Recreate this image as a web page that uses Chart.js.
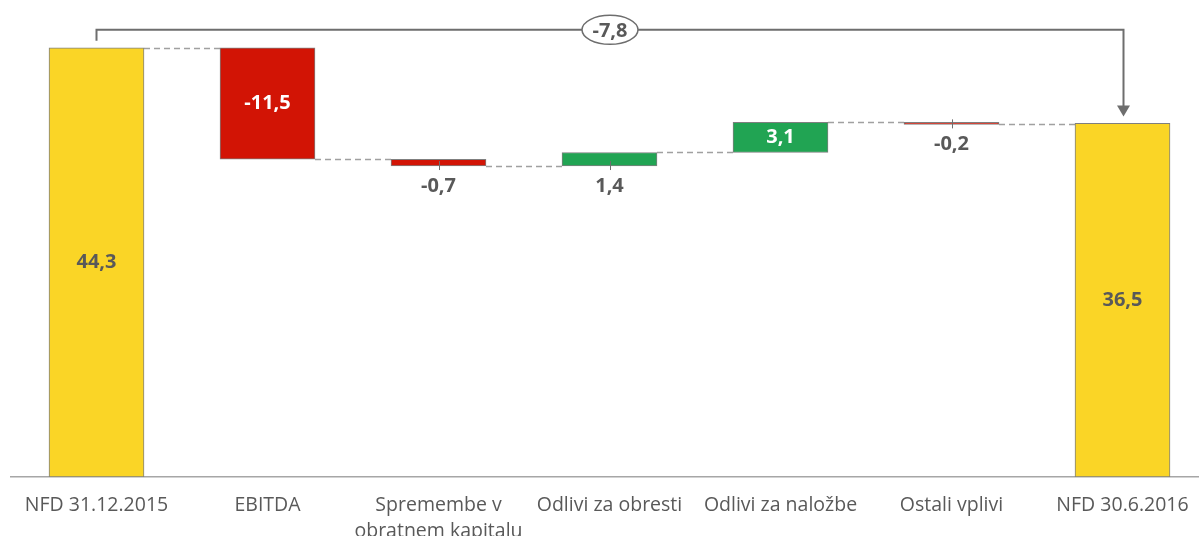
<!DOCTYPE html>
<html>
<head>
<meta charset="utf-8">
<script src="https://cdn.jsdelivr.net/npm/chart.js@4.4.1/dist/chart.umd.min.js"></script>
<style>
  html, body { margin: 0; padding: 0; background: #ffffff; }
  #wrap { width: 1199px; height: 536px; overflow: hidden; position: relative; }
  canvas { display: block; }
</style>
</head>
<body>
<div id="wrap"><canvas id="chart" width="1210" height="536"></canvas></div>
<script>
// Net financial debt bridge (EUR m)
const categories = [
  'NFD 31.12.2015',
  'EBITDA',
  ['Spremembe v', 'obratnem kapitalu'],
  'Odlivi za obresti',
  'Odlivi za naložbe',
  'Ostali vplivi',
  'NFD 30.6.2016'
];
const openingBalance = 44.3;
const changes = [-11.5, -0.7, 1.4, 3.1, -0.2];
const closingBalance = 36.5;

const COLOR_TOTAL = '#FAD526';
const COLOR_UP = '#D21405';     // debt increase shown red
const COLOR_DOWN = '#21A453';   // debt decrease shown green
const TEXT_GRAY = '#595959';
const LINE_GRAY = '#6E6E6E';

const round1 = v => Math.round(v * 10) / 10;
const fmt = v => v.toFixed(1).replace('.', ',');

// floating ranges for every bar and the level each bar ends at
const ranges = [[0, openingBalance]];
const labelValues = [openingBalance];
const endLevels = [openingBalance];
const colors = [COLOR_TOTAL];
let running = openingBalance;
changes.forEach(c => {
  const next = round1(running + c);
  ranges.push([next, running].sort((a, b) => a - b));
  labelValues.push(c);
  endLevels.push(next);
  colors.push(c < 0 ? COLOR_UP : COLOR_DOWN);
  running = next;
});
ranges.push([0, closingBalance]);
labelValues.push(closingBalance);
endLevels.push(closingBalance);
colors.push(COLOR_TOTAL);
const totalChange = round1(closingBalance - openingBalance);

const bridgePlugin = {
  id: 'bridge',
  beforeDatasetsDraw(chart) {
    const {ctx} = chart;
    const y = chart.scales.y;
    const bars = chart.getDatasetMeta(0).data;
    ctx.save();
    ctx.strokeStyle = '#A0A0A0';
    ctx.lineWidth = 1.5;
    ctx.setLineDash([6, 4]);
    for (let i = 0; i < bars.length - 1; i++) {
      const a = bars[i], b = bars[i + 1];
      const py = Math.round(y.getPixelForValue(endLevels[i])) + 0.5;
      ctx.beginPath();
      ctx.moveTo(a.x + a.width / 2, py);
      ctx.lineTo(b.x - b.width / 2, py);
      ctx.stroke();
    }
    ctx.restore();
  },
  afterDatasetsDraw(chart) {
    const {ctx} = chart;
    const bars = chart.getDatasetMeta(0).data;
    ctx.save();
    ctx.font = 'bold 20px "Open Sans"';
    ctx.textAlign = 'center';
    ctx.textBaseline = 'middle';
    bars.forEach((bar, i) => {
      const top = Math.min(bar.y, bar.base);
      const bottom = Math.max(bar.y, bar.base);
      const text = fmt(labelValues[i]);
      if (bottom - top > 26) {
        ctx.fillStyle = colors[i] === COLOR_TOTAL ? TEXT_GRAY : '#FFFFFF';
        ctx.fillText(text, bar.x, (top + bottom) / 2);
      } else {
        ctx.strokeStyle = LINE_GRAY;
        ctx.lineWidth = 1;
        ctx.beginPath();
        ctx.moveTo(Math.round(bar.x) + 0.5, bottom - 5);
        ctx.lineTo(Math.round(bar.x) + 0.5, bottom + 4);
        ctx.stroke();
        ctx.fillStyle = TEXT_GRAY;
        ctx.fillText(text, bar.x, bottom + 20);
      }
    });

    // overall change bracket from first to last total
    const first = bars[0], last = bars[bars.length - 1];
    const x1 = Math.round(first.x) - 0.5, x2 = Math.round(last.x) + 0.5;
    const topY = first.y - 18;
    const tipY = last.y - 7;
    ctx.strokeStyle = LINE_GRAY;
    ctx.fillStyle = LINE_GRAY;
    ctx.lineWidth = 2;
    ctx.beginPath();
    ctx.moveTo(x1, first.y - 7);
    ctx.lineTo(x1, topY);
    ctx.lineTo(x2, topY);
    ctx.lineTo(x2, tipY - 10);
    ctx.stroke();
    ctx.beginPath();
    ctx.moveTo(x2 - 6.5, tipY - 11);
    ctx.lineTo(x2 + 6.5, tipY - 11);
    ctx.lineTo(x2, tipY);
    ctx.closePath();
    ctx.fill();

    const cx = (x1 + x2) / 2;
    ctx.beginPath();
    ctx.ellipse(cx, topY, 28, 14.5, 0, 0, Math.PI * 2);
    ctx.fillStyle = '#FFFFFF';
    ctx.fill();
    ctx.lineWidth = 1.5;
    ctx.stroke();
    ctx.fillStyle = TEXT_GRAY;
    ctx.fillText(fmt(totalChange), cx, topY + 1);
    ctx.restore();
  }
};

new Chart(document.getElementById('chart'), {
  type: 'bar',
  data: {
    labels: categories,
    datasets: [{
      data: ranges,
      backgroundColor: colors,
      borderColor: '#7F7F7F',
      borderWidth: 1,
      borderSkipped: false,
      barThickness: 95
    }]
  },
  options: {
    responsive: false,
    devicePixelRatio: 1,
    animation: false,
    layout: { padding: { left: 11, right: 2, top: 12, bottom: 0 } },
    plugins: { legend: { display: false }, tooltip: { enabled: false } },
    scales: {
      x: {
        grid: { display: false, drawTicks: false },
        border: { display: true, color: '#A6A6A6', width: 1.5 },
        ticks: {
          color: TEXT_GRAY,
          autoSkip: false,
          maxRotation: 0,
          padding: 15.5,
          font: { family: '"Open Sans"', size: 19.5, lineHeight: 1.333 }
        },
        afterFit(scale) { scale.height = 59; }
      },
      y: {
        display: false,
        min: 0,
        max: 48
      }
    }
  },
  plugins: [bridgePlugin]
});
</script>
</body>
</html>
